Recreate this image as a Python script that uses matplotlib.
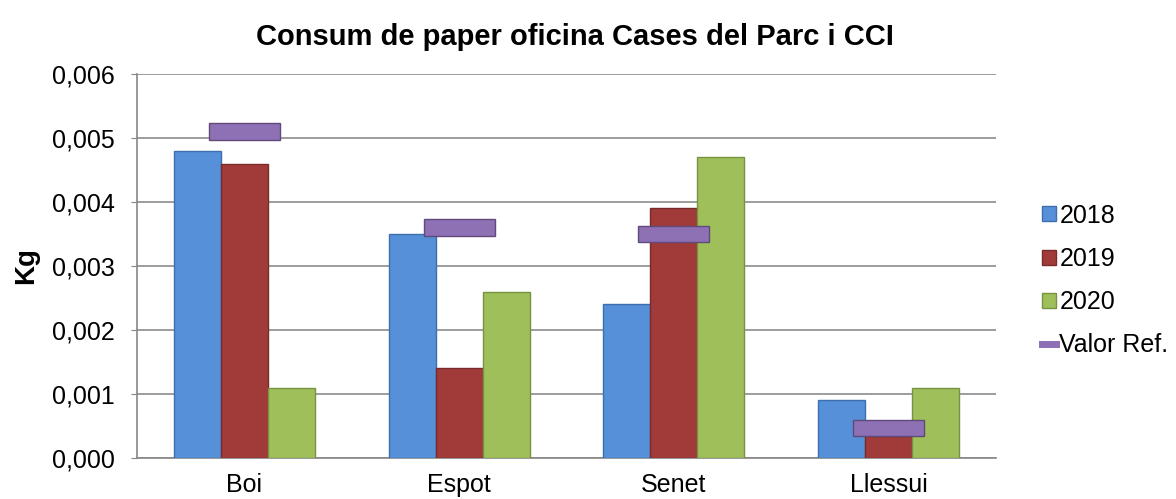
import matplotlib
matplotlib.use('Agg')
import matplotlib.pyplot as plt
import numpy as np
from matplotlib.ticker import FuncFormatter
from matplotlib.patches import Patch
from matplotlib.lines import Line2D

plt.rcParams['font.family'] = ['Liberation Sans', 'DejaVu Sans']

# dades
llocs = ['Boi', 'Espot', 'Senet', 'Llessui']
anys = ['2018', '2019', '2020']
v2018 = [0.0048, 0.0035, 0.0024, 0.0009]
v2019 = [0.0046, 0.0014, 0.0039, 0.00035]
v2020 = [0.0011, 0.0026, 0.0047, 0.0011]
valor_ref = [0.0051, 0.0036, 0.0035, 0.00047]

colors = ['#5690D8', '#A13B3A', '#9FBF5B']
edges = ['#3D6FAE', '#7A2A2B', '#78933F']
ref_face = '#8E70B5'
ref_edge = '#5F4A7B'

fig = plt.figure(figsize=(11.76, 4.99), dpi=100)
ax = fig.add_axes([0.1165, 0.082, 0.7305, 0.770])

x = np.arange(len(llocs))
w = 0.219
series = [v2018, v2019, v2020]
for i, vals in enumerate(series):
    ax.bar(x + (i - 1) * w, vals, width=w, color=colors[i], edgecolor=edges[i],
           linewidth=1.0, zorder=3)

# valor de referencia, dibuixat com una barra curta horitzontal
h = 0.00026
ax.bar(x, [h] * len(x), bottom=np.array(valor_ref) - h / 2, width=0.33,
       color=ref_face, edgecolor=ref_edge, linewidth=1.0, zorder=4)

ax.set_xlim(-0.5, len(llocs) - 0.5)
ax.set_ylim(0, 0.006)
ax.set_yticks(np.arange(0, 0.0061, 0.001))
ax.yaxis.set_major_formatter(FuncFormatter(lambda v, p: f'{v:.3f}'.replace('.', ',')))
ax.set_xticks(x)
ax.set_xticklabels(llocs)
ax.tick_params(axis='x', length=0, labelsize=18, pad=11)
ax.tick_params(axis='y', labelsize=18, length=4, color='#868686', pad=12)
ax.yaxis.grid(True, color='#8C8C8C', linewidth=1.2, zorder=0)
for s in ['top', 'right']:
    ax.spines[s].set_visible(False)
for s in ['left', 'bottom']:
    ax.spines[s].set_color('#868686')
    ax.spines[s].set_linewidth(1.2)

ax.set_ylabel('Kg', fontsize=20, fontweight='bold', labelpad=9)
fig.suptitle('Consum de paper oficina Cases del Parc i CCI', fontsize=21,
             fontweight='bold', x=0.489, y=0.926, va='center')

handles = [Patch(facecolor=colors[i], edgecolor=edges[i], label=anys[i]) for i in range(3)]
handles.append(Line2D([0], [0], color=ref_face, linewidth=5, label='Valor Ref.'))
ax.legend(handles=handles, loc='center left', bbox_to_anchor=(1.027, 0.462),
          frameon=False, fontsize=18, handlelength=0.55, handleheight=0.55,
          handletextpad=0.15, labelspacing=0.77)

fig.savefig('out.png', dpi=100)
